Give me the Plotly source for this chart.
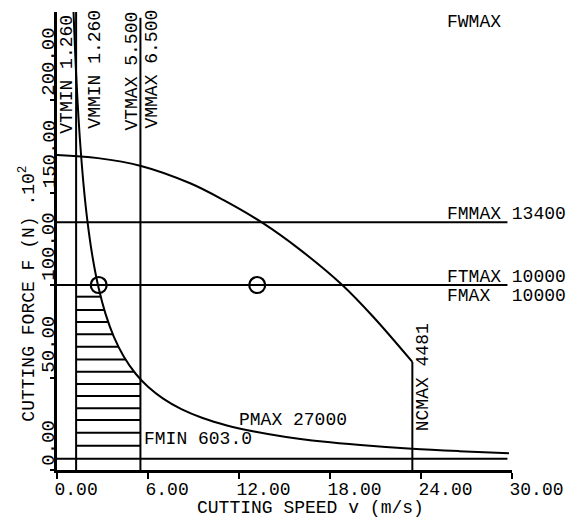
import plotly.graph_objects as go

FONT = "Liberation Mono, Courier New, monospace"

# ---- axis ticks ----
x_tick_vals = [0, 6, 12, 18, 24, 30]
x_tick_text = ["0.00", "6.00", "12.00", "18.00", "24.00", "30.00"]
y_tick_vals = [0, 50, 100, 150, 200]
y_tick_text = ["0.00", "50.00", "100.00", "150.00", "200.00"]

# ---- limits (v in m/s, F in N x 10^2) ----
VTMIN = 1.26
VMMIN = 1.26
VTMAX = 5.5
NCMAX_V = 23.43
NCMAX_F = 58.4
FMMAX = 134.0
FTMAX = 100.0
FMAX = 100.0
FMIN = 6.03
LINE_END_V = 29.7
Y_TOP = 247.6

# constant-power curve PMAX 27000
pmax_v = [1.09, 1.2, 1.35, 1.5, 1.75, 2.0, 2.35, 2.75, 3.2, 3.75, 4.4, 5.2,
          6.0, 7.0, 8.2, 9.6, 11.2, 13.0, 15.0, 17.5, 20.0, 23.4, 26.5, 29.8]
pmax_f = [247.6, 225.0, 200.0, 180.0, 154.3, 135.0, 114.9, 98.2, 84.4, 72.0,
          61.4, 51.9, 45.0, 38.6, 32.9, 28.1, 24.1, 20.8, 18.0, 15.4, 13.5,
          11.5, 10.2, 9.1]

# upper arc
arc_v = [0.0, 2.7, 5.48, 8.78, 10.96, 13.53, 16.04, 18.81, 20.86, 23.43]
arc_f = [170.3, 168.6, 164.5, 155.0, 146.0, 133.7, 119.0, 100.0, 82.7, 58.4]

# hatch lines of the feasible region
hatch_f = [13.1, 20.2, 27.0, 33.4, 40.0, 46.5, 53.1, 59.8, 66.6, 73.4, 80.0, 86.5, 93.7]
hatch_end = [5.5, 5.5, 5.5, 5.5, 5.5, 5.5, 5.08, 4.52, 4.05, 3.68, 3.38, 3.12, 2.88]

# marked points
pt_v = [2.75, 13.2]
pt_f = [100.0, 100.0]

LW = 2
K = "black"

fig = go.Figure()

def add_line(xs, ys, shape="linear", w=LW):
    fig.add_trace(go.Scatter(x=xs, y=ys, mode="lines",
                             line=dict(color=K, width=w, shape=shape),
                             showlegend=False, hoverinfo="skip"))

# vertical limits
add_line([VTMIN, VTMIN], [0, Y_TOP])
add_line([VTMAX, VTMAX], [0, 244.5])
add_line([NCMAX_V, NCMAX_V], [0, NCMAX_F])
# horizontal limits
add_line([0, LINE_END_V], [FMMAX, FMMAX])
add_line([0, LINE_END_V], [FTMAX, FTMAX])
add_line([0, LINE_END_V], [FMIN, FMIN])
# curves
add_line(pmax_v, pmax_f, shape="spline")
add_line(arc_v, arc_f, shape="spline")
# hatching
hx, hy = [], []
for f, e in zip(hatch_f, hatch_end):
    hx += [VTMIN, e, None]
    hy += [f, f, None]
add_line(hx, hy)

fig.add_trace(go.Scatter(x=pt_v, y=pt_f, mode="markers",
                         marker=dict(symbol="circle-open", size=16, color=K,
                                     line=dict(width=2.2, color=K)),
                         showlegend=False, hoverinfo="skip"))

ann = []
def txt(x, y, s, xanchor="left", yanchor="middle", angle=0, size=18,
        xref="x", yref="y"):
    ann.append(dict(x=x, y=y, xref=xref, yref=yref, text=s, showarrow=False,
                    xanchor=xanchor, yanchor=yanchor, textangle=angle,
                    font=dict(family=FONT, size=size, color=K)))

# y tick labels (rotated, starting at the tick)
for v, s in zip(y_tick_vals, y_tick_text):
    txt(-0.0165, v + 1.5, s, xanchor="center", yanchor="bottom", angle=-90,
        size=19, xref="paper")

# vertical limit labels
txt(0.68, 0.998, "VTMIN 1.260", xanchor="center", yanchor="top", angle=-90, yref="paper")
txt(2.45, 1.0087, "VMMIN 1.260", xanchor="center", yanchor="top", angle=-90, yref="paper")
txt(4.95, 1.0044, "VTMAX 5.500", xanchor="center", yanchor="top", angle=-90, yref="paper")
txt(6.2, 1.0087, "VMMAX 6.500", xanchor="center", yanchor="top", angle=-90, yref="paper")
txt(24.15, 20.0, "NCMAX 4481", xanchor="center", yanchor="bottom", angle=-90)

# horizontal limit labels
txt(25.6, 242.0, "FWMAX")
txt(25.6, FMMAX + 4.3, "FMMAX 13400")
txt(25.6, FTMAX + 4.3, "FTMAX 10000")
txt(25.6, FMAX - 5.9, "FMAX  10000")
txt(5.6, FMIN + 10.5, "FMIN 603.0")
txt(11.9, 27.0, "PMAX 27000")

# axis titles
txt(16.7, -0.083, "CUTTING SPEED v (m/s)", xanchor="center", yref="paper")
txt(-0.064, 25.0, "CUTTING FORCE F (N) .10<sup>2</sup>", xanchor="center",
    yanchor="bottom", angle=-90, xref="paper")

fig.update_layout(
    width=581, height=522,
    margin=dict(l=57, r=69, t=12, b=52),
    paper_bgcolor="white", plot_bgcolor="white",
    font=dict(family=FONT, size=18, color=K),
    annotations=ann,
    xaxis=dict(range=[0, 30], showline=True, linewidth=3, linecolor=K,
               ticks="outside", ticklen=6, tickwidth=2, tickcolor=K,
               tickvals=x_tick_vals, ticktext=x_tick_text,
               ticklabelposition="outside right", ticklabelshift=-5,
               tickfont=dict(family=FONT, size=18, color=K),
               showgrid=False, zeroline=False, fixedrange=True),
    yaxis=dict(range=[0, Y_TOP], showline=True, linewidth=3, linecolor=K,
               ticks="outside", ticklen=4, tickwidth=2, tickcolor=K,
               tickvals=y_tick_vals, showticklabels=False,
               showgrid=False, zeroline=False, fixedrange=True),
)

fig.write_html("out.html")
